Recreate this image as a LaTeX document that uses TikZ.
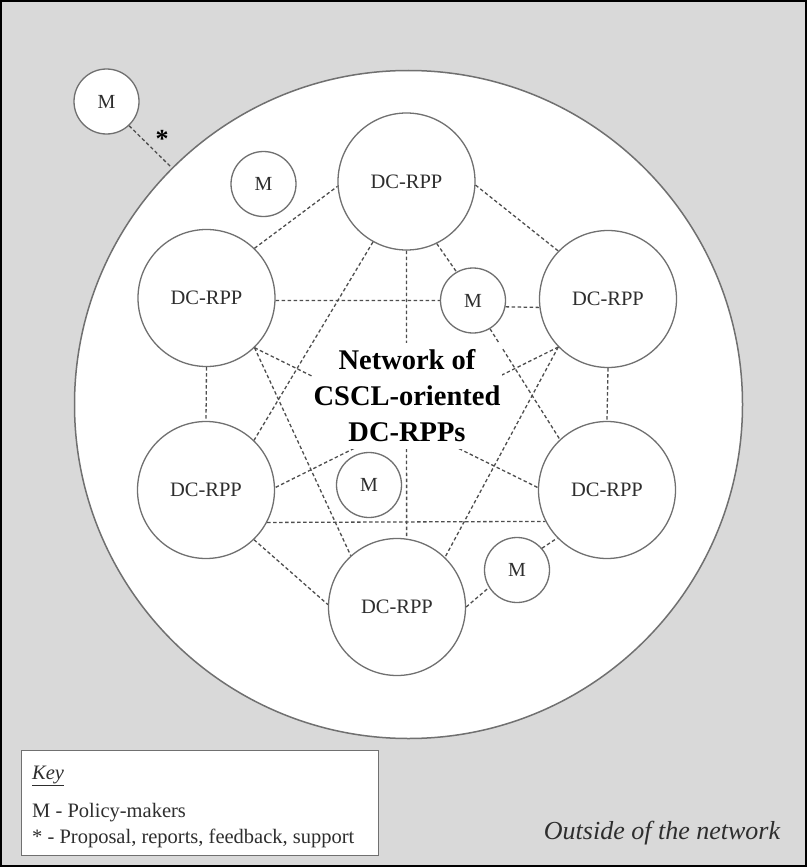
\documentclass[tikz,border=0pt]{standalone}
\usepackage{fontspec}
\setmainfont{Liberation Serif}
\usepackage{tikz}
\definecolor{bggray}{HTML}{D9D9D9}
\definecolor{edgegray}{HTML}{707070}
\definecolor{inkgray}{HTML}{2E2E2E}

\begin{document}
\begin{tikzpicture}[x=1pt, y=-1pt,
  rpp/.style={circle, draw=edgegray, line width=1.3pt, fill=white, minimum size=137pt, inner sep=0pt, text=inkgray, font=\fontsize{20.5}{24}\selectfont},
  pm/.style={circle, draw=edgegray, line width=1.3pt, fill=white, minimum size=65pt, inner sep=0pt, text=inkgray, font=\fontsize{20}{24}\selectfont},
  link/.style={draw=edgegray!70!black, line width=1.3pt, dash pattern=on 3.5pt off 2.5pt},
  keytext/.style={anchor=west, inner sep=0pt, text=inkgray, font=\fontsize{20.5}{24}\selectfont}]
\useasboundingbox (0,0) rectangle (807,867);
\fill[bggray] (0,0) rectangle (807,867);
\draw[black, line width=2pt] (1,1) rectangle (806,866);
% the network and its members
\node[circle, draw=edgegray, line width=1.5pt, fill=white, minimum size=668pt, inner sep=0pt] (net) at (408.5,404.5) {};
\node[pm] (mout) at (106.5,101.5) {M};
\node[rpp] (t) at (406.5,181.5) {DC-RPP};
\node[rpp] (ul) at (206.5,298) {DC-RPP};
\node[rpp] (ur) at (608,299) {DC-RPP};
\node[rpp] (ll) at (206,490) {DC-RPP};
\node[rpp] (lr) at (607,490) {DC-RPP};
\node[rpp] (b) at (397,607) {DC-RPP};
\node[pm] (m1) at (263.5,184) {M};
\node[pm] (m2) at (473,300.5) {M};
\node[pm] (m3) at (369,485) {M};
\node[pm] (m4) at (517,570) {M};
% links
\draw[link] (mout.-47) -- (net.135);
\draw[link] (ul.46) -- (t.184);
\draw[link] (t.-3) -- (ur.136);
\draw[link] (t.-90) -- (b.82);
\draw[link] (ul.-2) -- (m2.180);
\draw[link] (m2.-11) -- (ur.187);
\draw[link] (t.-64) -- (m2.120);
\draw[link] (m2.-59) -- (lr.133);
\draw[link] (ur.224) -- (ll.2);
\draw[link] (t.241) -- (ll.46);
\draw[link] (ul.-46) -- (lr.178);
\draw[link] (ur.224) -- (b.46);
\draw[link] (ul.-46) -- (b.132);
\draw[link] (ll.-28) -- (lr.207);
\draw[link] (ll.-46) -- (b.178);
\draw[link] (b.0) -- (m4.212);
\draw[link] (m4.41) -- (lr.224);
\draw[link] (ul.-90) -- (ll.90);
\draw[link] (ur.-90) -- (lr.90);
\node[font=\bfseries\fontsize{26}{30}\selectfont, inner sep=0pt] (star) at (162,139) {*};
\node[fill=white, align=center, inner xsep=2pt, inner ysep=7pt, text=black, font=\bfseries\fontsize{28.5}{36}\selectfont] (title) at (407,396) {Network of\\CSCL-oriented\\DC-RPPs};
% key
\node[draw=edgegray, line width=1pt, fill=white, minimum width=357pt, minimum height=105pt, anchor=north west] (keybox) at (21,750) {};
\node[keytext] (keyhead) at (32,776) {\underline{\textit{Key}}};
\node[keytext] (keym) at (32,813) {M - Policy-makers};
\node[keytext] (keystar) at (32,838) {* - Proposal, reports, feedback, support};
\node[text=inkgray, font=\itshape\fontsize{26}{30}\selectfont] (outside) at (662,833) {Outside of the network};
\end{tikzpicture}
\end{document}
